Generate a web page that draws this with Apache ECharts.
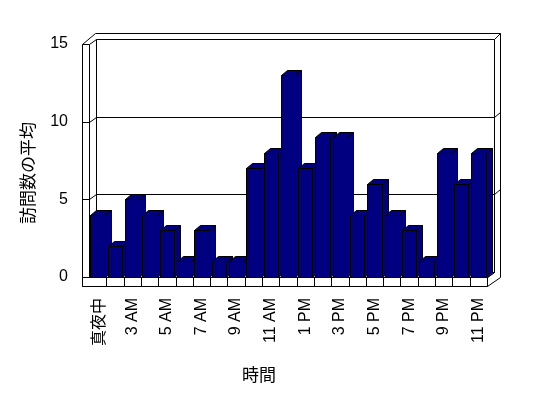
<!DOCTYPE html>
<html>
<head>
<meta charset="utf-8">
<script src="https://cdn.jsdelivr.net/npm/echarts@6/dist/echarts.min.js"></script>
<style>
    html, body { margin: 0; padding: 0; background: #fff; }
    #chart { width: 548px; height: 398px; }
</style>
</head>
<body>
<div id="chart"></div>
<script>
// 時間帯ごとの訪問数の平均
const hours = ['真夜中', '1 AM', '3 AM', '4 AM', '5 AM', '6 AM', '7 AM', '8 AM', '9 AM', '10 AM', '11 AM', '12 PM',
    '1 PM', '2 PM', '3 PM', '4 PM', '5 PM', '6 PM', '7 PM', '8 PM', '9 PM', '10 PM', '11 PM'];
const visits = [4, 2, 5, 4, 3, 1, 3, 1, 1, 7, 8, 13, 7, 9, 9, 4, 6, 4, 3, 1, 8, 6, 8];
const yTicks = [0, 5, 10, 15];

const WALL = [7, -5];
const BAR = [6, -5];
const LATIN = "'Liberation Sans Narrow', 'Liberation Sans', 'Noto Sans CJK JP', sans-serif";
const CJK = "'Noto Sans CJK JP', sans-serif";

const px = (n) => Math.round(n) + 0.5;
const line = (pts) => ({
    type: 'polyline',
    shape: {points: pts.map(p => [px(p[0]), px(p[1])])},
    style: {stroke: '#000', fill: null, lineWidth: 1}
});
const face = (pts, fill) => ({
    type: 'polygon',
    shape: {points: pts.map(p => [px(p[0]), px(p[1])])},
    style: {stroke: '#000', fill: fill, lineWidth: 1}
});

// 壁と床
function renderFrame (params, api) {
    const c = params.coordSys;
    const l = c.x, t = c.y, r = c.x + c.width, b = c.y + c.height;
    const dx = WALL[0], dy = WALL[1];
    const kids = [
        face([[l - 7, b + 9], [l - 7, t], [l + 6, t - 11], [r + 13, t - 11], [r + 13, b], [r, b + 9]], '#fff'),
        face([[l + dx, t + dy], [r + dx, t + dy], [r + dx, b + dy], [l + dx, b + dy]], '#fff'),
        line([[l - 7, t], [l, t], [l + dx, t + dy]]),
        line([[l, t], [l, b]]),
        line([[r + dx, t + dy], [r + 13, t - 11]])
    ];
    yTicks.forEach((v) => {
        if (v > yTicks[0] && v < yTicks[yTicks.length - 1]) {
            const y = api.coord([0, v])[1];
            kids.push(line([[l - 7, y], [l, y], [l + dx, y + dy], [r + dx, y + dy], [r + 13, y + dy - 5]]));
        }
    });
    kids.push(face([[l, b], [l + dx, b + dy], [r + dx, b + dy], [r, b]], '#fff'));
    kids.push(face([[l - 7, b], [r, b], [r, b + 9], [l - 7, b + 9]], '#fff'));
    kids.push(line([[r, b], [r + dx, b + dy]]));
    const band = api.size([1, 0])[0];
    for (let k = 1; k < hours.length; k++) {
        const x = l + k * band;
        kids.push(line([[x, b], [x, b + 9]]));
    }
    return {type: 'group', children: kids};
}

// 立体の棒
function renderBar (params, api) {
    const i = api.value(0);
    const v = api.value(1);
    const top = api.coord([i, v]);
    const base = api.coord([i, 0]);
    const w = api.size([1, 0])[0] * 0.83;
    const x0 = top[0] - w / 2, x1 = x0 + w;
    const y0 = top[1], yb = base[1];
    const dx = BAR[0], dy = BAR[1];
    return {
        type: 'group',
        children: [
            face([[x1, y0], [x1 + dx, y0 + dy], [x1 + dx, yb + dy], [x1, yb]], '#000080'),
            face([[x0, y0], [x0 + dx, y0 + dy], [x1 + dx, y0 + dy], [x1, y0]], '#000080'),
            face([[x0, y0], [x1, y0], [x1, yb], [x0, yb]], '#000080')
        ]
    };
}

const myChart = echarts.init(document.getElementById('chart'));
myChart.setOption({
    animation: false,
    grid: {left: 89, right: 61, top: 44, bottom: 121},
    xAxis: {
        type: 'category',
        data: hours,
        axisLine: {show: false},
        axisTick: {show: false},
        splitLine: {show: false},
        axisLabel: {
            interval: 1,
            rotate: 90,
            margin: 21,
            color: '#000',
            fontFamily: LATIN,
            fontSize: 16,
            formatter: (s) => /[^\x00-\x7f]/.test(s) ? '{c|' + s + '}' : s,
            rich: {c: {fontFamily: CJK, fontSize: 16, color: '#000'}}
        }
    },
    yAxis: {
        type: 'value',
        min: yTicks[0],
        max: yTicks[yTicks.length - 1],
        interval: 5,
        axisLine: {show: false},
        axisTick: {show: false},
        splitLine: {show: false},
        axisLabel: {
            margin: 21,
            color: '#000',
            fontFamily: LATIN,
            fontSize: 16
        }
    },
    graphic: [
        {
            type: 'text',
            x: 28,
            y: 173,
            rotation: Math.PI / 2,
            style: {
                text: '訪問数の平均',
                fill: '#000',
                font: "17px 'Noto Sans CJK JP'",
                align: 'center',
                verticalAlign: 'middle'
            }
        },
        {
            type: 'text',
            x: 259,
            y: 375,
            style: {
                text: '時間',
                fill: '#000',
                font: "17px 'Noto Sans CJK JP'",
                align: 'center',
                verticalAlign: 'middle'
            }
        }
    ],
    series: [
        {
            type: 'custom',
            silent: true,
            renderItem: renderFrame,
            data: [[0, 0]],
            z: 1
        },
        {
            type: 'custom',
            name: '訪問数の平均',
            renderItem: renderBar,
            encode: {x: 0, y: 1},
            data: visits.map((v, i) => [i, v]),
            z: 2
        }
    ]
});
</script>
</body>
</html>
